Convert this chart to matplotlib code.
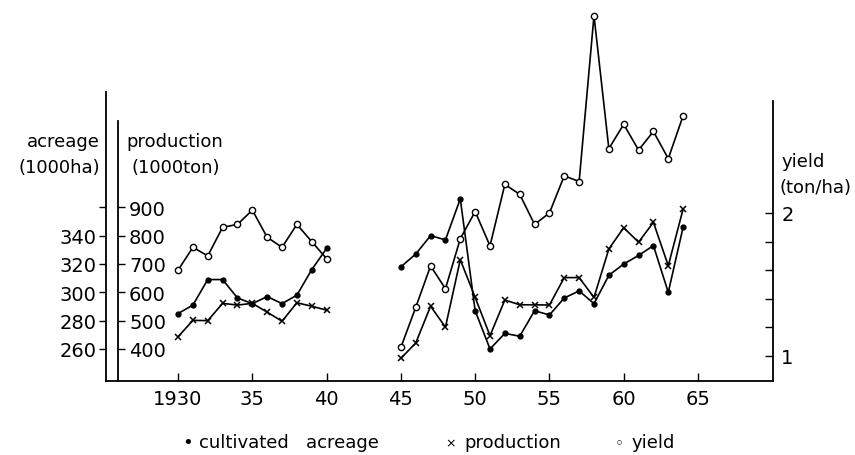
import matplotlib
matplotlib.use("Agg")
import matplotlib.pyplot as plt

# data
years_pre = [1930, 1931, 1932, 1933, 1934, 1935, 1936, 1937, 1938, 1939, 1940]
years_post = [1945, 1946, 1947, 1948, 1949, 1950, 1951, 1952, 1953, 1954,
              1955, 1956, 1957, 1958, 1959, 1960, 1961, 1962, 1963, 1964]

acreage_pre = [285, 291, 309, 309, 296, 292, 297, 292, 298, 316, 331]
acreage_post = [318, 327, 340, 337, 366, 287, 260, 271, 269, 287,
                284, 296, 301, 292, 312, 320, 326, 333, 300, 346]

production_pre = [443, 501, 500, 561, 555, 561, 530, 498, 563, 551, 537]
production_post = [367, 421, 551, 477, 715, 582, 447, 573, 556, 556,
                   555, 652, 652, 582, 753, 828, 777, 847, 694, 894]

yield_pre = [1.60, 1.76, 1.70, 1.90, 1.92, 2.02, 1.83, 1.76, 1.92, 1.80, 1.68]
yield_post = [1.06, 1.34, 1.63, 1.47, 1.82, 2.01, 1.77, 2.20, 2.13, 1.92,
              2.00, 2.26, 2.22, 3.38, 2.45, 2.62, 2.44, 2.57, 2.38, 2.68]

x_ticks = [1930, 1935, 1940, 1945, 1950, 1955, 1960, 1965]
x_labels = ["1930", "35", "40", "45", "50", "55", "60", "65"]
acreage_ticks = [260, 280, 300, 320, 340, 360]
acreage_labels = ["260", "280", "300", "320", "340", ""]
production_ticks = [400, 500, 600, 700, 800, 900]
yield_ticks = [1.0, 1.2, 1.4, 1.6, 1.8, 2.0]
yield_labels = ["1", "", "", "", "", "2"]

W, H = 855, 456
fig = plt.figure(figsize=(W / 100, H / 100), dpi=100)
ax = fig.add_axes([106 / W, 1 - 382 / H, 667 / W, 289 / H])
ax_p = ax.twinx()
ax_y = ax.twinx()

ax.set_xlim(1925.15, 1970.05)
ax.set_ylim(237.4, 441.4)
ax_p.set_ylim(287, 1307)
ax_y.set_ylim(0.825, 2.846)

lw = 1.2
for xs, ys in [(years_pre, acreage_pre), (years_post, acreage_post)]:
    ax.plot(xs, ys, color="black", lw=lw, marker="o", ms=3.5, clip_on=False)
for xs, ys in [(years_pre, production_pre), (years_post, production_post)]:
    ax_p.plot(xs, ys, color="black", lw=lw, marker="x", ms=5, mew=1.1,
              clip_on=False)
for xs, ys in [(years_pre, yield_pre), (years_post, yield_post)]:
    ax_y.plot(xs, ys, color="black", lw=lw, marker="o", ms=4.5, mfc="white",
              mew=1, clip_on=False)

# spines
ax.spines["top"].set_visible(False)
ax.spines["right"].set_visible(False)
for a in (ax_p, ax_y):
    a.spines["top"].set_visible(False)
    a.spines["left"].set_visible(False)
    a.spines["bottom"].set_visible(False)
ax_p.spines["right"].set_position(("axes", 12 / 667))
ax_p.spines["right"].set_bounds(287, 1204)
ax_y.spines["right"].set_bounds(0.825, 2.78)
for a in (ax, ax_p, ax_y):
    for s in a.spines.values():
        s.set_linewidth(1.3)

# ticks
ax.set_xticks(x_ticks)
ax.set_xticklabels(x_labels)
ax.tick_params(axis="x", direction="in", length=6, width=1, pad=6,
               labelsize=14)
ax.set_yticks(acreage_ticks)
ax.set_yticklabels(acreage_labels)
ax.tick_params(axis="y", direction="out", length=5, width=1, pad=2,
               labelsize=14)
ax_p.set_yticks(production_ticks)
ax_p.tick_params(axis="y", direction="out", length=5, width=1, pad=3,
                 labelsize=14)
ax_y.set_yticks(yield_ticks)
ax_y.set_yticklabels(yield_labels)
ax_y.tick_params(axis="y", direction="in", length=6, width=1, pad=6,
                 labelsize=14)

# axis titles
def ft(x, y, s, **kw):
    kw.setdefault("fontsize", 13)
    fig.text(x / W, 1 - y / H, s, va="center", **kw)

ft(100, 142, "acreage", ha="right")
ft(100, 168, "(1000ha)", ha="right")
ft(126, 142, "production", ha="left")
ft(131, 168, "(1000ton)", ha="left")
ft(782, 162, "yield", ha="left")
ft(779, 188, "(ton/ha)", ha="left")

# legend line under the chart
ft(182, 443, "\u2022", ha="left")
ft(199, 443, "cultivated   acreage", ha="left")
ft(445, 444, "\u00d7", ha="left", fontsize=9)
ft(464, 443, "production", ha="left")
ft(615, 444, "\u25e6", ha="left", fontsize=11)
ft(632, 443, "yield", ha="left")

fig.savefig("out.png", dpi=100)
